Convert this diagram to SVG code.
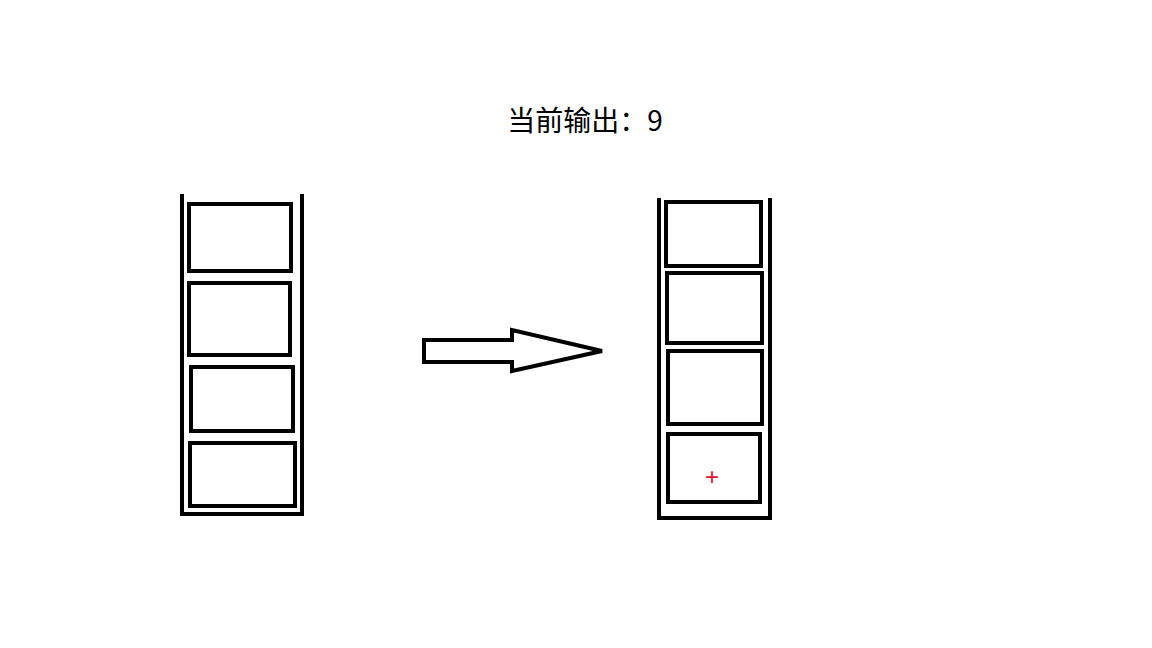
<svg xmlns="http://www.w3.org/2000/svg" width="1152" height="648" viewBox="0 0 1152 648">
<style>.b{fill:none;stroke:#000;stroke-width:4}</style>
<rect width="1152" height="648" fill="#fff"/>
<text x="585" y="131" font-family="Noto Sans CJK SC, sans-serif" font-size="28" text-anchor="middle">当前输出：9</text>
<g id="left">
<path class="b" d="M182 194V514H302V194"/>
<rect class="b" x="189" y="204" width="102" height="67"/>
<rect class="b" x="189" y="283" width="101" height="72"/>
<rect class="b" x="191" y="367" width="102" height="64"/>
<rect class="b" x="190" y="443" width="105" height="63"/>
</g>
<g id="arrow"><path class="b" d="M424 340H512V330L602 351L512 371V362H424Z"/></g>
<g id="right">
<path class="b" d="M659 198V518H770V198"/>
<rect class="b" x="666" y="202" width="95" height="64"/>
<rect class="b" x="667" y="273" width="95" height="70"/>
<rect class="b" x="668" y="351" width="94" height="73"/>
<rect class="b" x="668" y="434" width="92" height="68"/>
<text x="712" y="485" font-family="Liberation Sans, sans-serif" font-size="24" fill="#e0102a" text-anchor="middle">+</text>
</g>
</svg>
